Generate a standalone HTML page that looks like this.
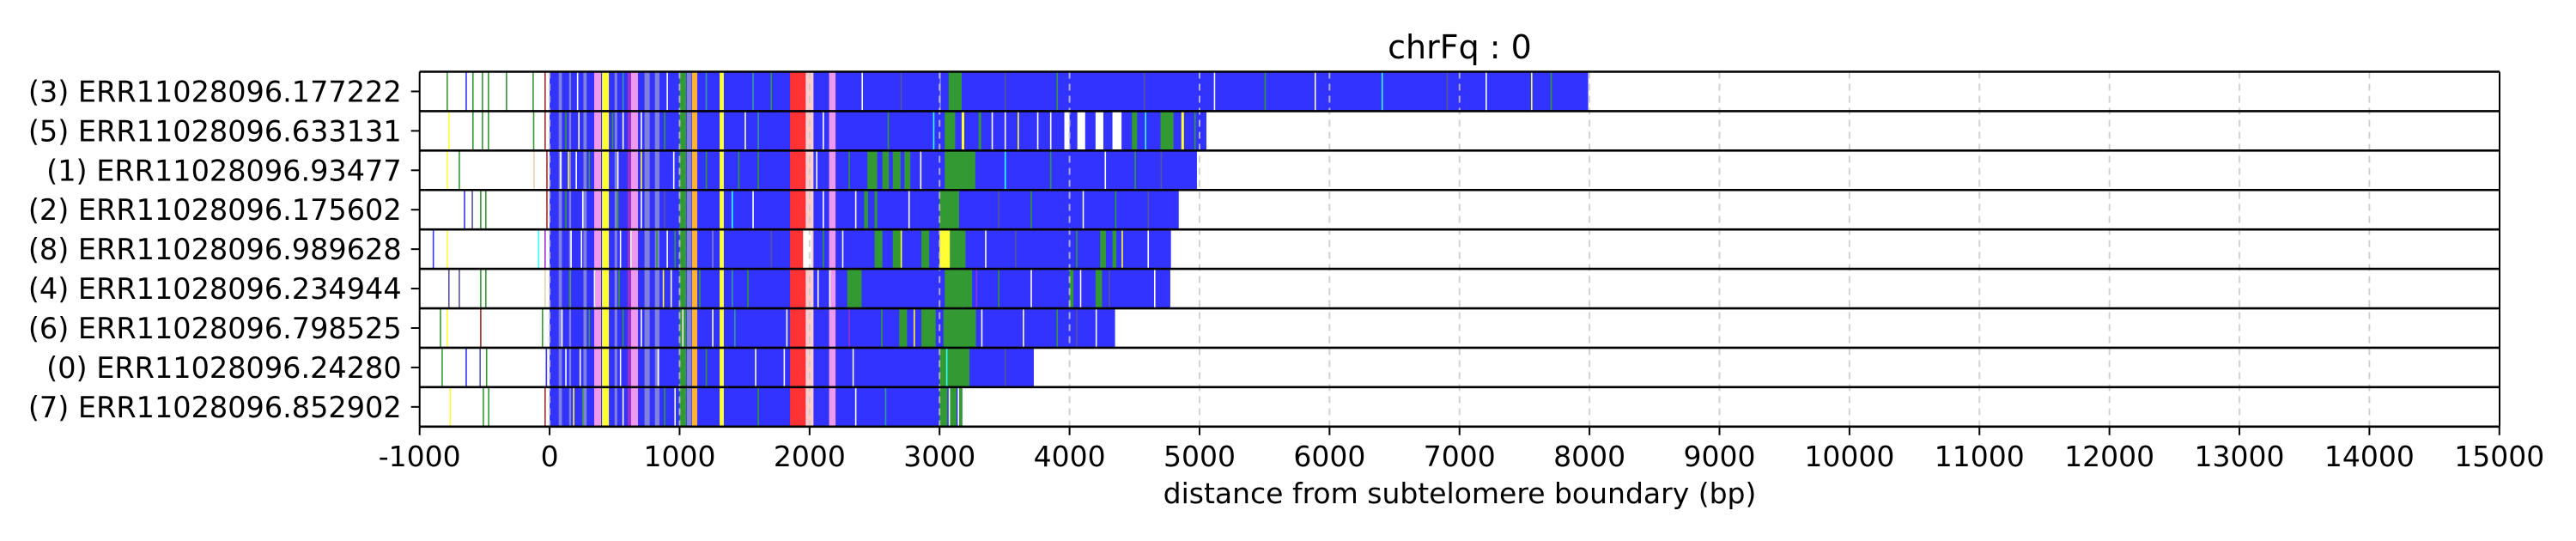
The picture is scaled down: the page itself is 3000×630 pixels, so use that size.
<!DOCTYPE html>
<html>
<head>
<meta charset="utf-8">
<style>
  html, body { margin: 0; padding: 0; background: #ffffff; }
  svg { display: block; }
  text { font-family: "DejaVu Sans", "Liberation Sans", sans-serif; fill: #000; }
</style>
</head>
<body>
<svg id="chart" width="3000" height="630" viewBox="0 0 3000 630" xmlns="http://www.w3.org/2000/svg">
  <rect x="0" y="0" width="3000" height="630" fill="#ffffff"/>
  <g id="bars"></g>
  <g id="grid"></g>
  <g id="frames"></g>
  <g id="axes"></g>
  <text x="1700" y="68" font-size="38" text-anchor="middle">chrFq : 0</text>
  <text x="1700" y="586" font-size="33" text-anchor="middle">distance from subtelomere boundary (bp)</text>
</svg>
<script>
// ---- data ----
const rowLabels = ["(3) ERR11028096.177222","(5) ERR11028096.633131","(1) ERR11028096.93477","(2) ERR11028096.175602","(8) ERR11028096.989628","(4) ERR11028096.234944","(6) ERR11028096.798525","(0) ERR11028096.24280","(7) ERR11028096.852902"];
const rowEnds = [7990, 5053, 4980, 4840, 4780, 4775, 4350, 3725, 3175];
const xTicks = [-1000,0,1000,2000,3000,4000,5000,6000,7000,8000,9000,10000,11000,12000,13000,14000,15000];
const colors = {B:"#3333ff",G:"#339933",Y:"#ffff33",R:"#ff3333",P:"#ee99ee",L:"#ffcccc",O:"#ffb233",V:"#9933cc",M:"#8080dd",T:"#339999",W:"#ffffff",C:"#33ffff",N:"#a52a2a",K:"#e8d2b0",D:"#555599"};
// bands shared by all reads [start, end, colour]
const commonBands = [[70,95,"M"],[150,165,"M"],[260,285,"M"],[343,396,"P"],[403,456,"Y"],[500,520,"M"],[600,627,"V"],[627,680,"P"],[730,770,"M"],[810,845,"M"],[1000,1050,"G"],[1055,1090,"M"],[1095,1136,"O"],[1308,1340,"Y"],[1850,1970,"R"],[1970,2030,"L"],[2150,2200,"P"]];
// row specific bands
const rowBands = [
  [[3070,3170,"G"],[3000,3010,"M"]],
  [[3040,3120,"G"],[3170,3190,"Y"],[3300,3320,"G"],[3960,4000,"W"],[4060,4120,"W"],[4200,4260,"W"],[4330,4400,"W"],[4480,4520,"G"],[4700,4800,"G"],[4860,4880,"Y"]],
  [[2445,2520,"G"],[2560,2610,"G"],[2640,2700,"G"],[2730,2775,"G"],[3040,3275,"G"]],
  [[2420,2450,"G"],[2500,2520,"G"],[3000,3150,"G"]],
  [[1950,2015,"W"],[2500,2560,"G"],[2640,2700,"G"],[2860,2920,"G"],[3000,3080,"Y"],[3080,3200,"G"],[4235,4280,"G"],[4330,4360,"G"]],
  [[2290,2400,"G"],[3040,3250,"G"],[4000,4030,"G"],[4200,4250,"G"]],
  [[2690,2750,"G"],[2860,2970,"G"],[3030,3280,"G"]],
  [[3000,3230,"G"]],
  [[3000,3060,"G"],[3080,3130,"G"],[3150,3175,"G"]]
];
// thin stripes [bp, colour]
const rowStripes = [
  [[-793,"G"],[-647,"B"],[-595,"G"],[-522,"G"],[-476,"G"],[-337,"G"],[-132,"G"],[-40,"N"],[210,"W"],[560,"T"],[900,"W"],[1200,"T"],[1560,"T"],[1700,"G"],[2400,"W"],[2700,"D"],[3500,"D"],[3900,"G"],[4570,"D"],[5110,"W"],[5500,"G"],[5885,"W"],[6400,"C"],[6900,"D"],[7200,"W"],[7550,"Y"],[7700,"G"]],
  [[-780,"Y"],[-595,"G"],[-522,"G"],[-476,"G"],[-128,"G"],[-40,"N"],[120,"G"],[220,"W"],[480,"G"],[560,"W"],[700,"W"],[880,"G"],[1500,"W"],[1600,"T"],[2100,"W"],[2600,"G"],[2950,"C"],[3400,"W"],[3500,"W"],[3600,"Y"],[3750,"W"],[3850,"W"],[4580,"C"],[4960,"G"]],
  [[-793,"Y"],[-700,"G"],[-125,"K"],[-26,"N"],[80,"W"],[140,"Y"],[200,"W"],[300,"G"],[520,"W"],[700,"Y"],[950,"W"],[1200,"G"],[1450,"G"],[1600,"G"],[2050,"W"],[2300,"G"],[2850,"W"],[3500,"C"],[3850,"G"],[4270,"W"],[4500,"G"],[4700,"D"]],
  [[-660,"B"],[-600,"D"],[-535,"G"],[-496,"G"],[-26,"N"],[120,"G"],[250,"W"],[520,"G"],[700,"W"],[880,"D"],[1400,"C"],[1560,"W"],[2100,"W"],[2350,"W"],[2760,"W"],[3450,"D"],[3700,"G"],[4100,"W"],[4350,"G"],[4600,"D"]],
  [[-900,"B"],[-793,"Y"],[-90,"C"],[-40,"V"],[160,"W"],[240,"W"],[540,"W"],[620,"W"],[820,"G"],[900,"W"],[960,"G"],[1250,"M"],[1700,"D"],[2100,"G"],[2250,"W"],[2700,"Y"],[3350,"W"],[3580,"D"],[4050,"G"],[4400,"Y"],[4600,"W"]],
  [[-780,"D"],[-700,"D"],[-535,"G"],[-496,"G"],[-40,"K"],[150,"G"],[340,"W"],[530,"G"],[870,"Y"],[930,"W"],[1150,"G"],[1400,"T"],[1520,"G"],[2060,"W"],[2150,"W"],[3280,"V"],[3450,"G"],[3700,"W"],[4080,"W"],[4300,"D"],[4650,"W"]],
  [[-845,"G"],[-793,"Y"],[-535,"N"],[-60,"G"],[90,"W"],[300,"G"],[560,"G"],[700,"W"],[1020,"W"],[1250,"W"],[1420,"T"],[1820,"W"],[2300,"V"],[2550,"G"],[2800,"Y"],[3320,"W"],[3640,"W"],[3900,"G"],[4050,"D"],[4200,"W"]],
  [[-832,"G"],[-647,"B"],[-540,"D"],[-490,"G"],[-30,"B"],[120,"W"],[230,"W"],[540,"W"],[830,"W"],[1200,"G"],[1580,"W"],[1800,"W"],[2330,"W"],[3050,"C"],[3370,"B"],[3500,"D"]],
  [[-770,"Y"],[-515,"G"],[-474,"G"],[-40,"N"],[180,"Y"],[250,"G"],[560,"W"],[880,"G"],[960,"W"],[1600,"G"],[2350,"W"],[2580,"T"],[3070,"W"],[3140,"W"]]
];

// ---- scales ----
const X0 = 488.7, PX_PER_BP = 0.15138;
const plotTop = 83.5, rowH = 45.92, plotRight = 2911;
function xScale(bp) { return X0 + (bp + 1000) * PX_PER_BP; }
function rowTop(i) { return plotTop + i * rowH; }

const NS = "http://www.w3.org/2000/svg";
function mk(tag, attrs) {
  const e = document.createElementNS(NS, tag);
  for (const k in attrs) e.setAttribute(k, attrs[k]);
  return e;
}
const bars = document.getElementById("bars");
const grid = document.getElementById("grid");
const frames = document.getElementById("frames");
const axes = document.getElementById("axes");

rowLabels.forEach((lab, i) => {
  const y = rowTop(i), end = rowEnds[i];
  const g = mk("g", {});
  
  
  bars.appendChild(g);
  const clipEnd = Math.min(end, 15000);
  const base = mk("rect", {x: xScale(0), y: y, width: Math.max(0, xScale(clipEnd) - xScale(0)), height: rowH, fill: colors.B});
  
  
  g.appendChild(base);
  const bands = commonBands.concat(rowBands[i]);
  bands.forEach(b => {
    const s = Math.max(0, b[0]), e = Math.min(b[1], end);
    if (e <= s) return;
    const r = mk("rect", {x: xScale(s), y: y, width: xScale(e) - xScale(s), height: rowH, fill: colors[b[2]]});
    
    
    g.appendChild(r);
  });
  rowStripes[i].forEach(st => {
    if (st[0] > end) return;
    const r = mk("rect", {x: xScale(st[0]), y: y, width: 1.6, height: rowH, fill: colors[st[1]]});
    
    
    g.appendChild(r);
  });
  const cy = y + rowH / 2;
  const t = mk("line", {x1: X0 - 10, x2: X0, y1: cy, y2: cy, stroke: "#000", "stroke-width": 2});
  
  
  axes.appendChild(t);
  const tx = mk("text", {x: X0 - 21, y: cy + 12, "font-size": 33.5, "text-anchor": "end"});
  tx.textContent = lab;
  
  
  axes.appendChild(tx);
});

xTicks.forEach(v => {
  const x = xScale(v);
  if (v > -1000 && v < 15000) {
    const gl = mk("line", {x1: x, x2: x, y1: plotTop, y2: plotTop + 9 * rowH, stroke: "#c8c8c8", "stroke-width": 2, "stroke-dasharray": "8,6", opacity: 0.8});
    
    
    grid.appendChild(gl);
  }
  const tk = mk("line", {x1: x, x2: x, y1: plotTop + 9 * rowH, y2: plotTop + 9 * rowH + 10, stroke: "#000", "stroke-width": 2});
  
  
  axes.appendChild(tk);
  const lb = mk("text", {x: x, y: 543, "font-size": 33, "text-anchor": "middle"});
  lb.textContent = String(v);
  
  
  axes.appendChild(lb);
});

for (let i = 0; i <= 9; i++) {
  const y = rowTop(i);
  const l = mk("line", {x1: X0, x2: plotRight, y1: y, y2: y, stroke: "#000", "stroke-width": 2.6});
  
  
  frames.appendChild(l);
}
["left", "right"].forEach(side => {
  const x = side === "left" ? X0 : plotRight;
  const l = mk("line", {x1: x, x2: x, y1: plotTop, y2: plotTop + 9 * rowH, stroke: "#000", "stroke-width": 2});
  
  
  frames.appendChild(l);
});
</script>
</body>
</html>
